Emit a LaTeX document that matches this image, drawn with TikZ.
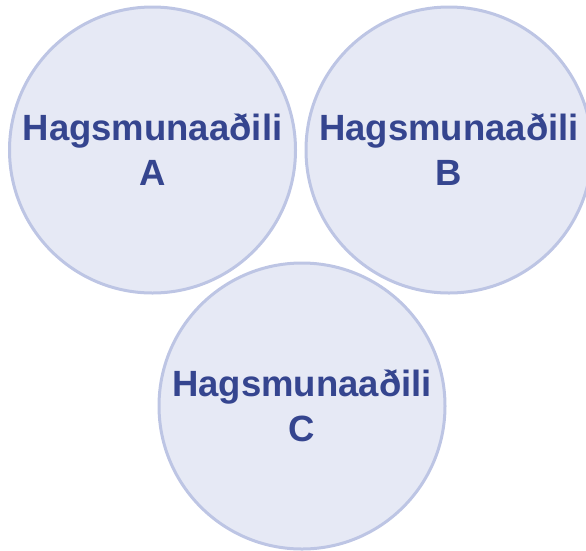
\documentclass[tikz,border=0pt]{standalone}
\usepackage{fontspec}
\setmainfont{Liberation Sans}
\usepackage{xcolor}
\definecolor{partyfill}{HTML}{E6E9F5}
\definecolor{partyline}{HTML}{BDC5E4}
\definecolor{partytext}{HTML}{35458F}
\tikzstyle{party} = [circle, minimum size=286pt, inner sep=0pt, line width=3pt, draw=partyline, fill=partyfill, text=partytext, align=center, font=\fontsize{36.5}{45}\selectfont\bfseries]

\begin{document}
\begin{tikzpicture}[x=1pt, y=-1pt]
	\useasboundingbox (0,0) rectangle (586,550);
	\node (stakeA) [party] at (152.5,150) {Hagsmunaaðili\\A};
	\node (stakeB) [party] at (449,150) {Hagsmunaaðili\\B};
	\node (stakeC) [party] at (302,406) {Hagsmunaaðili\\C};
\end{tikzpicture}
\end{document}
